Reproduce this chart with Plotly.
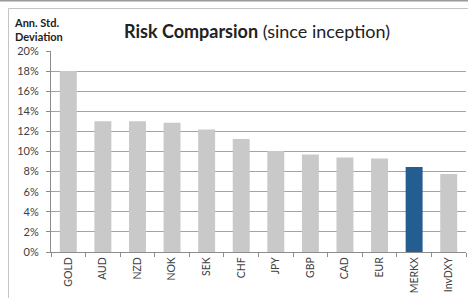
import plotly.graph_objects as go

categories = ["GOLD", "AUD", "NZD", "NOK", "SEK", "CHF", "JPY", "GBP", "CAD", "EUR", "MERKX", "InvDXY"]
values = [18.0, 13.0, 13.0, 12.87, 12.2, 11.25, 10.05, 9.7, 9.4, 9.3, 8.45, 7.75]
highlight = "MERKX"
y_ticks = [0, 2, 4, 6, 8, 10, 12, 14, 16, 18, 20]
y_tick_labels = [f"{v}%" for v in y_ticks]

GRAY = "#C9C9C9"
BLUE = "#245D8F"
colors = [BLUE if c == highlight else GRAY for c in categories]

W, H = 468, 298
ML, MR, MT, MB = 51, 2, 51, 46
PW, PH = W - ML - MR, H - MT - MB

def px(x):
    return (x - ML) / PW

def py(y):
    return (H - MB - y) / PH

FONT = "Lato"

fig = go.Figure(go.Bar(
    x=categories, y=values, marker=dict(color=colors, line=dict(width=0)),
    width=0.49, hoverinfo="skip",
))

fig.update_layout(
    width=W, height=H,
    margin=dict(l=ML, r=MR, t=MT, b=MB, autoexpand=False),
    paper_bgcolor="white", plot_bgcolor="white",
    showlegend=False,
    font=dict(family=FONT, size=10, color="#404040"),
    bargap=0.51,
    xaxis=dict(
        type="category", tickangle=-90, ticks="outside", ticklen=4, tickcolor="#8C8C8C",
        tickson="boundaries", showline=True, linecolor="#8C8C8C", linewidth=1,
        showgrid=False, tickfont=dict(size=10.5, color="#404040"), automargin=False,
    ),
    yaxis=dict(
        range=[0, 20], tickvals=y_ticks, ticktext=y_tick_labels,
        ticks="outside", ticklen=4, tickcolor="#8C8C8C",
        showline=True, linecolor="#8C8C8C", linewidth=1,
        showgrid=True, gridcolor="#A4A4A4", gridwidth=1, zeroline=False,
        tickfont=dict(size=11, color="#404040"), automargin=False,
        ticklabelstandoff=5,
    ),
    shapes=[
        dict(type="line", xref="paper", yref="paper", x0=px(-2), x1=px(W + 2), y0=py(0.8), y1=py(0.8),
             line=dict(color="#9A9A9A", width=1.5), layer="above"),
        dict(type="line", xref="paper", yref="paper", x0=px(8.5), x1=px(W + 2), y0=py(8.5), y1=py(8.5),
             line=dict(color="#C4C4C4", width=1), layer="above"),
        dict(type="line", xref="paper", yref="paper", x0=px(8.5), x1=px(8.5), y0=py(8.5), y1=py(H + 2),
             line=dict(color="#C4C4C4", width=1), layer="above"),
    ],
    annotations=[
        dict(xref="paper", yref="paper", x=px(257), y=py(31), xanchor="center", yanchor="middle",
             text="<b>Risk Comparsion</b> (since inception)", showarrow=False,
             font=dict(family=FONT, size=18, color="#222222")),
        dict(xref="paper", yref="paper", x=px(12), y=py(14), xanchor="left", yanchor="top", align="left",
             text="<b>Ann. Std.<br>Deviation</b>", showarrow=False,
             font=dict(family=FONT, size=11, color="#222222")),
    ],
)

fig.write_html("out.html", config={"displayModeBar": False, "staticPlot": True},
               post_script="document.body.style.margin='0';document.body.style.overflow='hidden';")
